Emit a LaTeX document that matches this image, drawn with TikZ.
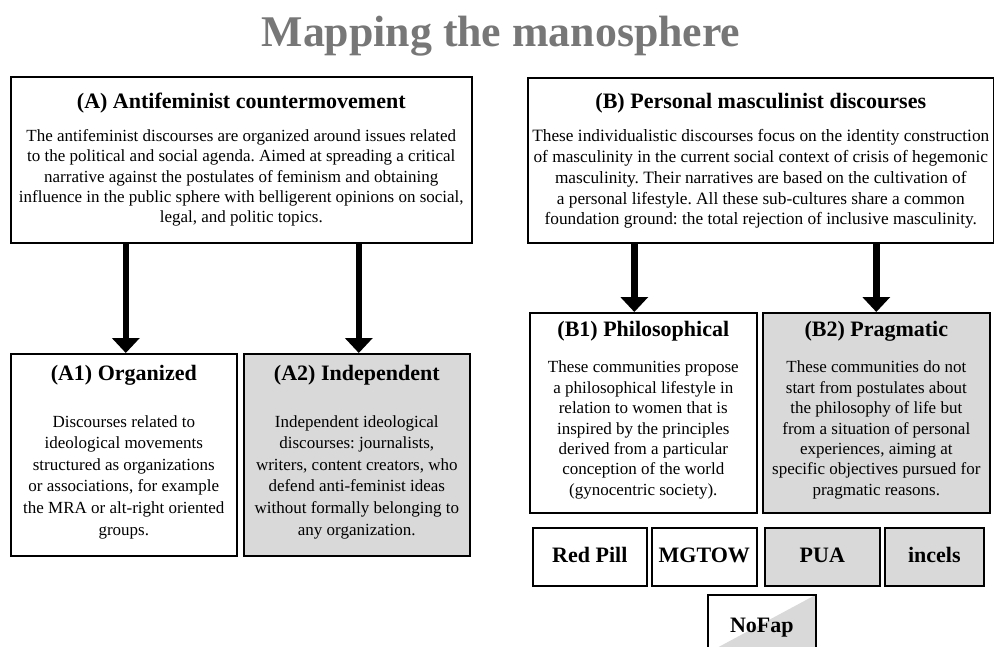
\documentclass[tikz,border=0pt]{standalone}
\usepackage{fontspec}
\setmainfont{Liberation Serif}
\usetikzlibrary{arrows.meta}
\definecolor{boxgray}{HTML}{D9D9D9}
\definecolor{titlegray}{HTML}{777777}
\begin{document}
\frenchspacing
\begin{tikzpicture}[x=1pt,y=-1pt,
  box/.style={draw=black, line width=1.6pt, inner sep=0pt, anchor=north west, fill=white},
  graybox/.style={box, fill=boxgray},
  head/.style={font=\fontsize{22}{24}\selectfont\bfseries, inner sep=0pt},
  body/.style={font=\fontsize{17}{20.4}\selectfont, align=center, inner sep=0pt},
  tag/.style={font=\fontsize{22}{24}\selectfont\bfseries, inner sep=0pt, anchor=base},
  arr/.style={line width=6.5pt, -{Triangle[width=27pt,length=15pt]}}
]
\clip (0,0) rectangle (994,646);
\useasboundingbox (0,0) rectangle (994,646);

\node[font=\fontsize{43.8}{48}\selectfont\bfseries, text=titlegray, inner sep=0pt] (title) at (501,36) {Mapping the manosphere};

% Boxes A side
\node[box, minimum width=461pt, minimum height=166pt] (A) at (10,76) {};
\node[box, minimum width=226pt, minimum height=202pt] (A1) at (10,353) {};
\node[graybox, minimum width=226pt, minimum height=202pt] (A2) at (243,353) {};

% Boxes B side
\node[box, minimum width=466pt, minimum height=165pt] (B) at (527,77) {};
\node[box, minimum width=227pt, minimum height=200pt] (B1) at (529,312) {};
\node[graybox, minimum width=227pt, minimum height=200pt] (B2) at (762,312) {};

% Small boxes
\node[box, minimum width=114pt, minimum height=58pt] (RP) at (532,527) {};
\node[box, minimum width=105pt, minimum height=58pt] (MG) at (651,527) {};
\node[graybox, minimum width=115pt, minimum height=58pt] (PUA) at (764,527) {};
\node[graybox, minimum width=99pt, minimum height=58pt] (INC) at (884,527) {};
\node[box, minimum width=108pt, minimum height=58pt,
  path picture={\fill[boxgray] (path picture bounding box.south west) -- (path picture bounding box.north east) -- (path picture bounding box.south east) -- cycle;}] (NF) at (707,594) {};

\node[tag] (tRP) at ([yshift=-35.7pt]RP.north) {Red Pill};
\node[tag] (tMG) at ([yshift=-35.7pt]MG.north) {MGTOW};
\node[tag] (tPUA) at ([yshift=-35.7pt]PUA.north) {PUA};
\node[tag] (tINC) at ([yshift=-35.7pt]INC.north) {incels};
\node[tag] (tNF) at ([yshift=-38pt]NF.north) {NoFap};

% Texts A
\node[head] (hA) at (A.north |- 0,103) {(A) Antifeminist countermovement};
\node[body] (bA) at (A.north |- 0,178) {The antifeminist discourses are organized around issues related\\
to the political and social agenda. Aimed at spreading a critical\\
narrative against the postulates of feminism and obtaining\\
influence in the public sphere with belligerent opinions on social,\\
legal, and politic topics.};

\node[head] (hA1) at (A1.north |- 0,375) {(A1) Organized};
\node[body, font=\fontsize{17}{21.6}\selectfont] (bA1) at (A1.north |- 0,477) {Discourses related to\\
ideological movements\\
structured as organizations\\
or associations, for example\\
the MRA or alt-right oriented\\
groups.};

\node[head] (hA2) at (A2.north |- 0,375) {(A2) Independent};
\node[body, font=\fontsize{17}{21.6}\selectfont] (bA2) at (A2.north |- 0,477) {Independent ideological\\
discourses: journalists,\\
writers, content creators, who\\
defend anti-feminist ideas\\
without formally belonging to\\
any organization.};

% Texts B
\node[head] (hB) at (B.north |- 0,103) {(B) Personal masculinist discourses};
\node[body, font=\fontsize{17.3}{20.8}\selectfont] (bB) at (B.north |- 0,179) {These individualistic discourses focus on the identity construction\\
of masculinity in the current social context of crisis of hegemonic\\
masculinity. Their narratives are based on the cultivation of\\
a personal lifestyle. All these sub-cultures share a common\\
foundation ground: the total rejection of inclusive masculinity.};

\node[head] (hB1) at (B1.north |- 0,331) {(B1) Philosophical};
\node[body] (bB1) at (B1.north |- 0,430) {These communities propose\\
a philosophical lifestyle in\\
relation to women that is\\
inspired by the principles\\
derived from a particular\\
conception of the world\\
(gynocentric society).};

\node[head] (hB2) at (B2.north |- 0,331) {(B2) Pragmatic};
\node[body] (bB2) at (B2.north |- 0,430) {These communities do not\\
start from postulates about\\
the philosophy of life but\\
from a situation of personal\\
experiences, aiming at\\
specific objectives pursued for\\
pragmatic reasons.};

% Arrows
\draw[arr] ([xshift=2pt]A.south -| A1.north) -- ([xshift=2pt]A1.north);
\draw[arr] ([xshift=2pt]A.south -| A2.north) -- ([xshift=2pt]A2.north);
\draw[arr] ([xshift=-9pt]B.south -| B1.north) -- ([xshift=-9pt]B1.north);
\draw[arr] (B.south -| B2.north) -- (B2.north);
\end{tikzpicture}
\end{document}
